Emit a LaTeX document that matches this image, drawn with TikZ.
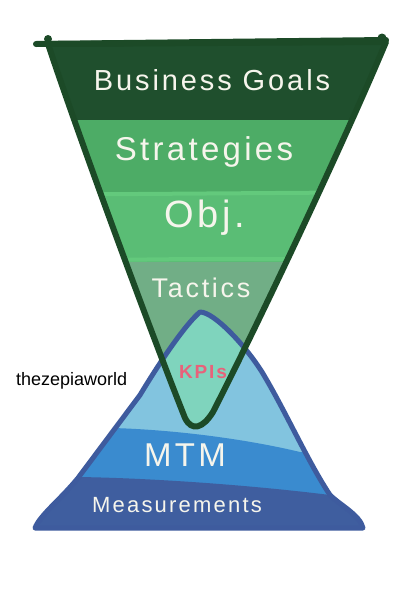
\documentclass[tikz,border=0pt]{standalone}
\usepackage{fontspec}
\setmainfont{Liberation Sans}
\newfontfamily\handfont[LetterSpace=10]{Liberation Sans}
\usepackage{tikz}

\definecolor{goalgreen}{HTML}{1F4F2D}
\definecolor{edgegreen}{HTML}{1C4A27}
\definecolor{stratgreen}{HTML}{4DAC66}
\definecolor{objgreen}{HTML}{5ABD75}
\definecolor{tacgreen}{HTML}{71AE86}
\definecolor{seamgreen}{HTML}{63C97C}
\definecolor{kpiteal}{HTML}{7FD4BD}
\definecolor{hillsky}{HTML}{82C4DF}
\definecolor{mtmblue}{HTML}{3A8BCF}
\definecolor{measblue}{HTML}{3F5E9F}
\definecolor{edgeblue}{HTML}{3E5B9E}
\definecolor{kpired}{HTML}{E8627A}
\definecolor{chalk}{HTML}{F6F5EC}

\begin{document}
\begin{tikzpicture}[x=1pt,y=-1pt,
  funnel edge/.style={draw=edgegreen,line width=6pt,line join=round,line cap=round},
  hill edge/.style={draw=edgeblue,line width=5pt,line join=round},
  seam/.style={draw=seamgreen,line width=4pt},
  band label/.style={text=chalk,inner sep=0pt}]
  \useasboundingbox[fill=white] (0,0) rectangle (412,614);
  \path[save path=\funnelpath]
    (48,44) -- (386,42) .. controls (345,140) and (260,320) .. (213,412)
    .. controls (203,428) and (192,432) .. (185,418)
    .. controls (150,330) and (80,140) .. cycle;
  \path[save path=\hillpath]
    (200,312) .. controls (188,322) and (166,352) .. (140,395) -- (78,478)
    .. controls (60,500) and (40,515) .. (35,528) -- (363,528)
    .. controls (360,515) and (340,505) .. (330,495)
    .. controls (308,462) and (285,410) .. (262,372)
    .. controls (245,345) and (214,312) .. cycle;

  \begin{scope}
    \clip[use path=\funnelpath];
    \fill[goalgreen] (0,0) rectangle (412,120);
    \fill[stratgreen] (0,120) rectangle (412,194);
    \fill[objgreen] (0,194) rectangle (412,262);
    \fill[tacgreen] (0,262) rectangle (412,440);
    \draw[seam] (0,195) -- (412,192);
    \draw[seam] (0,263) .. controls (150,258) and (260,258) .. (412,261);
  \end{scope}

  \begin{scope}
    \clip[use path=\hillpath];
    \fill[hillsky] (0,300) rectangle (412,540);
    \fill[mtmblue] (0,426) -- (113,428) .. controls (180,430) and (250,440) .. (300,452)
      -- (412,455) -- (412,540) -- (0,540) -- cycle;
    \fill[measblue] (0,476) -- (78,477) .. controls (150,478) and (250,485) .. (330,495)
      -- (412,498) -- (412,540) -- (0,540) -- cycle;
    \fill[kpiteal,use path=\funnelpath];
  \end{scope}

  \draw[hill edge,use path=\hillpath];
  \draw[funnel edge,use path=\funnelpath];
  \draw[funnel edge] (36,44) -- (386,40);
  \fill[edgegreen] (48,39) circle (4) (382,38) circle (4.5);

  \node[band label,font=\handfont\fontsize{29}{29}\selectfont] (goals) at (212,80) {Business Goals};
  \node[band label,font=\handfont\fontsize{33}{33}\selectfont] (strategies) at (204,152) {Strategies};
  \node[band label,font=\handfont\fontsize{38}{38}\selectfont] (obj) at (205,218) {Obj.};
  \node[band label,font=\handfont\fontsize{27}{27}\selectfont] (tactics) at (201,288) {Tactics};
  \node[band label,text=kpired,font=\handfont\bfseries\fontsize{19}{19}\selectfont] (kpis) at (203,372) {KPIs};
  \node[band label,font=\handfont\fontsize{33}{33}\selectfont] (mtm) at (185,455) {MTM};
  \node[band label,font=\handfont\fontsize{22}{22}\selectfont] (measure) at (177,505) {Measurements};
  \node[anchor=west,inner sep=0pt,font=\fontsize{18}{18}\selectfont] (credit) at (16,381) {thezepiaworld};
\end{tikzpicture}
\end{document}
